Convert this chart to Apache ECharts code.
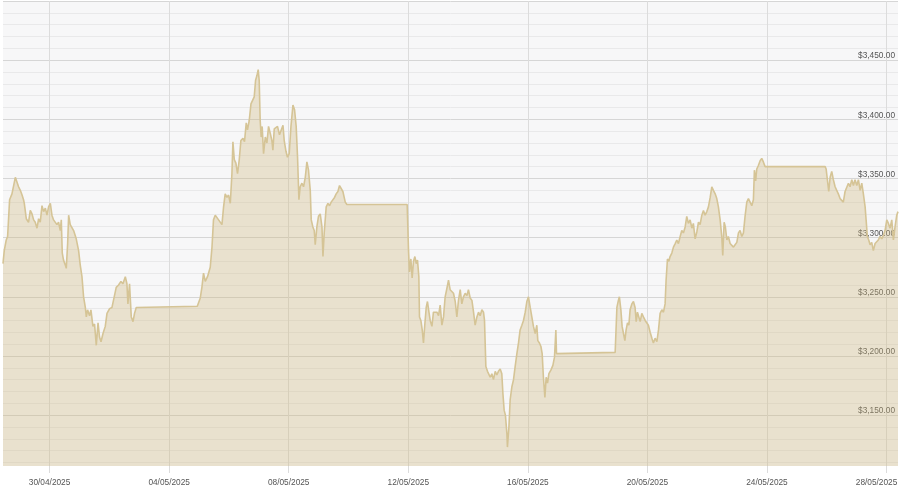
<!DOCTYPE html>
<html>
<head>
<meta charset="utf-8">
<script src="https://cdn.jsdelivr.net/npm/echarts@6/dist/echarts.min.js"></script>
<style>
html,body{margin:0;padding:0;background:#fff;}
#chart{width:900px;height:498px;}
</style>
</head>
<body>
<div id="chart"></div>
<script>
// x values: hours since 28/04/2025 00:00; y values: price in USD
var week1 = [[10.6,3278],[11.6,3289],[13.2,3298],[14.3,3301],[15.9,3332],[17.8,3337],[20.5,3351],[21.8,3350],[23.1,3343],[24.5,3340],[25.9,3336],[27.1,3332],[27.7,3329],[29.3,3316],[31.1,3313],[32.5,3323],[33.9,3320],[35.2,3315],[36.5,3313],[37.9,3308],[39.2,3316],[40.5,3313],[41.9,3327],[43.2,3322],[44.6,3325],[45.9,3319],[47.2,3326],[48.6,3329],[49.9,3319],[51.2,3315],[52.6,3316],[53.9,3311],[55.2,3313],[56.6,3306],[57.4,3315],[58.2,3287],[59.2,3281],[60.6,3277],[61.4,3274],[62.5,3295],[63.3,3319],[64.6,3311],[66.0,3312],[67.3,3306],[69.4,3299],[71.3,3289],[72.6,3277],[74.0,3267],[75.3,3250],[76.7,3241],[77.5,3233],[78.5,3239],[80.1,3234],[81.2,3239],[82.8,3225],[84.1,3227],[85.5,3209],[86.9,3228],[88.1,3216],[89.3,3212],[90.9,3219],[92.7,3225],[94.1,3236],[96.2,3240],[98.1,3241],[99.9,3250],[101.5,3258],[103.4,3260],[105.3,3263],[106.9,3261],[108.8,3267],[110.1,3261],[110.9,3244],[112.2,3261],[113.6,3233],[115.0,3229],[116.2,3236],[117.6,3241],[118.2,3242],[166.6,3242]];
var week2 = [[169.0,3249],[170.3,3258],[171.6,3270],[173.0,3263],[174.8,3267],[177.0,3275],[178.4,3292],[179.6,3315],[181.0,3319],[182.4,3320],[183.7,3315],[185.0,3316],[186.4,3311],[187.7,3326],[189.0,3337],[190.4,3334],[191.7,3336],[193.1,3329],[194.4,3354],[195.2,3381],[196.3,3366],[197.6,3363],[198.9,3354],[200.3,3366],[201.6,3382],[203.3,3384],[204.5,3381],[205.9,3397],[206.9,3391],[208.3,3399],[209.7,3413],[211.0,3416],[212.3,3419],[213.4,3433],[214.5,3437],[215.5,3442],[216.3,3433],[217.1,3399],[217.9,3385],[218.7,3394],[219.8,3371],[221.2,3385],[222.5,3380],[223.8,3394],[225.2,3388],[226.5,3382],[227.3,3374],[228.4,3392],[229.7,3391],[231.0,3394],[232.6,3387],[234.0,3391],[235.4,3395],[236.4,3382],[237.8,3373],[239.0,3368],[240.4,3371],[241.8,3394],[243.4,3412],[244.7,3408],[246.0,3394],[247.1,3368],[248.2,3332],[249.2,3343],[250.6,3346],[251.9,3343],[253.3,3351],[254.6,3364],[255.9,3357],[257.3,3340],[258.1,3315],[259.4,3309],[260.5,3306],[261.3,3294],[262.6,3309],[263.9,3318],[265.3,3320],[266.7,3309],[267.5,3284],[268.5,3304],[270.1,3326],[271.5,3329],[272.8,3327],[274.1,3330],[275.5,3329],[276.8,3334],[278.1,3337],[279.5,3339],[280.8,3344],[282.2,3343],[283.5,3339],[285.4,3330],[286.7,3328],[335.1,3328]];
var week3 = [[336.2,3289],[337.0,3271],[338.1,3282],[339.1,3266],[340.2,3280],[341.3,3284],[342.4,3278],[343.4,3281],[344.5,3267],[345.0,3233],[346.1,3230],[347.2,3222],[348.2,3211],[349.3,3227],[350.4,3241],[351.4,3246],[352.6,3237],[353.6,3230],[355.0,3225],[356.2,3237],[357.6,3236],[359.0,3237],[360.3,3234],[361.6,3243],[363.0,3226],[364.3,3233],[365.6,3250],[367.0,3257],[368.3,3264],[369.6,3256],[371.0,3257],[372.3,3253],[373.7,3246],[375.0,3233],[376.3,3247],[377.7,3256],[379.0,3244],[380.3,3250],[381.7,3253],[383.1,3251],[384.3,3256],[385.7,3249],[387.1,3247],[388.4,3237],[389.7,3226],[391.1,3233],[392.4,3237],[393.7,3234],[395.1,3239],[396.4,3237],[397.2,3230],[398.3,3191],[399.6,3187],[401.0,3188],[401.8,3182],[403.1,3185],[404.4,3180],[405.8,3187],[407.1,3184],[408.4,3187],[409.8,3189],[411.1,3185],[412.0,3168],[413.0,3154],[414.0,3150],[415.2,3134],[415.6,3123],[416.8,3140],[417.8,3163],[419.2,3174],[420.5,3180],[421.8,3191],[423.2,3202],[424.5,3211],[425.8,3222],[427.2,3226],[428.5,3230],[429.9,3237],[431.2,3246],[432.5,3250],[433.9,3241],[435.2,3233],[436.5,3225],[437.9,3219],[439.2,3226],[440.0,3213],[441.3,3211],[442.5,3208],[443.5,3202],[444.5,3182],[445.7,3165],[446.7,3182],[447.8,3177],[448.9,3185],[450.5,3188],[452.1,3192],[453.4,3199],[454.5,3222],[455.0,3202],[455.3,3203],[502.1,3203]];
var week4 = [[503.5,3241],[504.7,3247],[505.5,3250],[506.7,3239],[507.7,3225],[508.8,3219],[509.9,3213],[510.9,3222],[512.0,3228],[513.1,3226],[514.1,3239],[515.5,3244],[516.8,3246],[518.1,3241],[519.0,3229],[520.0,3237],[521.1,3233],[522.2,3229],[523.5,3236],[524.8,3233],[526.2,3230],[527.5,3229],[528.8,3226],[530.2,3220],[531.6,3215],[532.8,3211],[534.2,3215],[535.6,3212],[536.9,3222],[538.2,3236],[539.6,3239],[540.9,3237],[542.2,3244],[543.0,3264],[544.1,3282],[545.2,3280],[546.2,3284],[547.6,3287],[548.9,3292],[550.3,3295],[551.6,3298],[552.9,3295],[554.3,3301],[555.6,3306],[556.9,3304],[558.3,3309],[559.6,3318],[560.9,3312],[562.3,3315],[563.7,3308],[564.9,3312],[566.3,3299],[567.7,3305],[569.0,3313],[570.3,3311],[571.7,3319],[573.0,3323],[574.3,3319],[575.7,3322],[577.0,3326],[578.4,3334],[579.7,3343],[581.0,3340],[582.4,3337],[583.7,3333],[585.0,3326],[586.4,3315],[587.7,3301],[588.5,3285],[589.6,3313],[590.6,3309],[591.8,3298],[593.0,3301],[594.4,3295],[595.8,3296],[597.1,3292],[598.4,3294],[599.8,3296],[601.1,3304],[602.4,3306],[603.8,3301],[605.1,3304],[606.4,3318],[607.8,3330],[609.1,3333],[610.5,3332],[611.8,3327],[613.1,3332],[613.9,3357],[614.9,3348],[615.8,3358],[617.1,3361],[618.5,3365],[619.8,3367],[621.1,3364],[622.5,3360],[623.3,3360],[670.7,3360]];
var week5 = [[671.5,3358],[672.5,3349],[673.6,3339],[674.7,3351],[676.0,3356],[677.3,3349],[678.7,3343],[680.0,3340],[681.3,3337],[682.7,3333],[684.1,3334],[685.3,3330],[686.7,3339],[688.1,3340],[689.4,3346],[690.7,3343],[692.1,3349],[693.4,3344],[694.7,3349],[696.1,3344],[697.4,3349],[698.8,3340],[700.1,3346],[701.4,3337],[702.8,3326],[703.6,3315],[704.6,3301],[705.7,3298],[706.8,3294],[708.1,3296],[709.4,3289],[710.8,3295],[712.2,3294],[713.4,3298],[714.8,3301],[716.2,3299],[717.5,3302],[718.8,3306],[720.2,3315],[721.5,3312],[722.8,3308],[724.2,3315],[725.5,3298],[726.8,3309],[728.2,3319],[729.2,3322]];

var xTickHours = [48, 144, 240, 336, 432, 528, 624, 720];
var xTickLabels = ['30/04/2025', '04/05/2025', '08/05/2025', '12/05/2025', '16/05/2025', '20/05/2025', '24/05/2025', '28/05/2025'];
var yLabelValues = [3150, 3200, 3250, 3300, 3350, 3400, 3450];
var yGridValues = [3110,3120,3130,3140,3150,3160,3170,3180,3190,3200,3210,3220,3230,3240,3250,3260,3270,3280,3290,3300,3310,3320,3330,3340,3350,3360,3370,3380,3390,3400,3410,3420,3430,3440,3450,3460,3470,3480,3490,3500];

var data = week1.concat(week2, week3, week4, week5);
var chart = echarts.init(document.getElementById('chart'), null, {renderer: 'canvas'});
var fontFamily = '"Liberation Sans", Arial, sans-serif';
chart.setOption({
  animation: false,
  backgroundColor: '#ffffff',
  grid: {left: 3, right: 2, top: 1, bottom: 32, show: true, backgroundColor: '#f7f7f8', borderWidth: 0, containLabel: false, outerBoundsMode: 'none'},
  xAxis: {
    type: 'value',
    min: 10.6,
    max: 729.2,
    axisLine: {show: false},
    axisTick: {show: true, customValues: xTickHours, length: 7, lineStyle: {color: '#dcdcdc', width: 1}},
    splitLine: {show: true, lineStyle: {color: '#dcdcdc', width: 1}},
    axisLabel: {
      customValues: xTickHours,
      margin: 13,
      fontSize: 8.3,
      color: '#555555',
      fontFamily: fontFamily,
      hideOverlap: false,
      formatter: function (v) {
        var i = xTickHours.indexOf(v);
        if (i < 0) return '';
        return i === xTickHours.length - 1 ? '{last|' + xTickLabels[i] + '}' : xTickLabels[i];
      },
      rich: {
        last: {fontSize: 8.3, color: '#555555', fontFamily: fontFamily, padding: [0, 20, 0, 0]}
      }
    }
  },
  yAxis: {
    type: 'value',
    position: 'right',
    min: 3107,
    max: 3500,
    axisLine: {show: false},
    axisTick: {show: false, customValues: yGridValues},
    splitLine: {show: true, lineStyle: {color: ['#e9e9ea', '#e9e9ea', '#e9e9ea', '#e9e9ea', '#d6d6d6'], width: 1}},
    axisLabel: {
      customValues: yLabelValues,
      inside: true,
      margin: 3,
      fontSize: 8.3,
      color: '#555555',
      fontFamily: fontFamily,
      verticalAlign: 'bottom',
      formatter: function (v) {
        return '$' + v.toLocaleString('en-US', {minimumFractionDigits: 2, maximumFractionDigits: 2});
      }
    }
  },
  series: [{
    type: 'line',
    data: data,
    showSymbol: false,
    symbol: 'none',
    lineStyle: {color: '#d5c496', width: 1.6},
    areaStyle: {color: 'rgba(205,182,122,0.47)'},
    silent: true
  }]
});
</script>
</body>
</html>
